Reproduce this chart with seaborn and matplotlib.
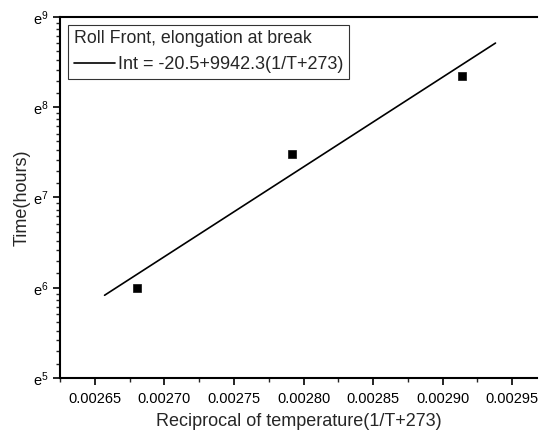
import numpy as np
import pandas as pd
import matplotlib
matplotlib.use("Agg")
import matplotlib.pyplot as plt
import seaborn as sns
from matplotlib.ticker import FixedLocator, MultipleLocator, FuncFormatter

# data
recip_temp = [0.002680, 0.002792, 0.002914]
ln_time = [6.00, 7.48, 8.35]
fit_x = [0.002657, 0.002938]
intercept = -20.5
slope = 9942.3
x_ticks = [0.00265, 0.00270, 0.00275, 0.00280, 0.00285, 0.00290, 0.00295]
y_exps = [5, 6, 7, 8, 9]

pts = pd.DataFrame({"x": recip_temp, "t": np.exp(ln_time)})
fit = pd.DataFrame({"x": fit_x, "t": np.exp(intercept + slope * np.array(fit_x))})

sns.set_theme(style="ticks")
plt.rcParams['font.family'] = ['Liberation Sans', 'DejaVu Sans']
plt.rcParams['mathtext.fontset'] = 'custom'
plt.rcParams['mathtext.rm'] = 'Liberation Sans'
plt.rcParams['mathtext.it'] = 'Liberation Sans'

fig = plt.figure(figsize=(5.41, 4.34), dpi=100)
ax = fig.add_axes([0.111, 0.129, 0.882, 0.832])
ax.set_yscale('log', base=np.e)

sns.lineplot(data=fit, x="x", y="t", ax=ax, color="black", linewidth=1.2,
             label="Int = -20.5+9942.3(1/T+273)")
sns.scatterplot(data=pts, x="x", y="t", ax=ax, marker="s", s=32, color="black",
                edgecolor="black", legend=False)

ax.set_xlim(0.002625, 0.002968)
ax.set_ylim(np.exp(5), np.exp(9))
ax.set_xticks(x_ticks)
ax.xaxis.set_minor_locator(MultipleLocator(0.000025))
ax.xaxis.set_major_formatter(FuncFormatter(lambda v, p: f"{v:.5f}"))

ax.yaxis.set_major_locator(FixedLocator([np.exp(k) for k in y_exps]))
ax.yaxis.set_major_formatter(FuncFormatter(lambda v, p: r"$\mathregular{e^{%d}}$" % round(np.log(v))))
minor = []
for k in y_exps[:-1]:
    a, b = np.exp(k), np.exp(k + 1)
    minor += [a + i * (b - a) / 10 for i in range(1, 10)]
ax.yaxis.set_minor_locator(FixedLocator(minor))
ax.yaxis.set_minor_formatter(FuncFormatter(lambda v, p: ""))

ax.tick_params(axis='both', which='major', direction='out', length=5, width=1.2,
               labelsize=10.5, colors='black')
ax.tick_params(axis='both', which='minor', direction='out', length=3, width=1.0)
ax.tick_params(axis='y', labelsize=10.5, pad=3)
ax.tick_params(axis='x', pad=5)

for s in ['left', 'bottom', 'top']:
    ax.spines[s].set_linewidth(1.5)
    ax.spines[s].set_color('black')
ax.spines['right'].set_visible(False)

ax.set_xlabel("Reciprocal of temperature(1/T+273)", fontsize=13, labelpad=5)
ax.set_ylabel("Time(hours)", fontsize=13, labelpad=2)

leg = ax.legend(loc='upper left', title="Roll Front, elongation at break",
                fontsize=13, title_fontsize=12.8, frameon=True, fancybox=False,
                edgecolor='black', handlelength=2.3, handletextpad=0.15, borderpad=0.3,
                borderaxespad=0.0,
                bbox_to_anchor=(0.017, 0.978), alignment='left')
leg.get_frame().set_linewidth(0.8)

fig.savefig("out.png", dpi=100)
